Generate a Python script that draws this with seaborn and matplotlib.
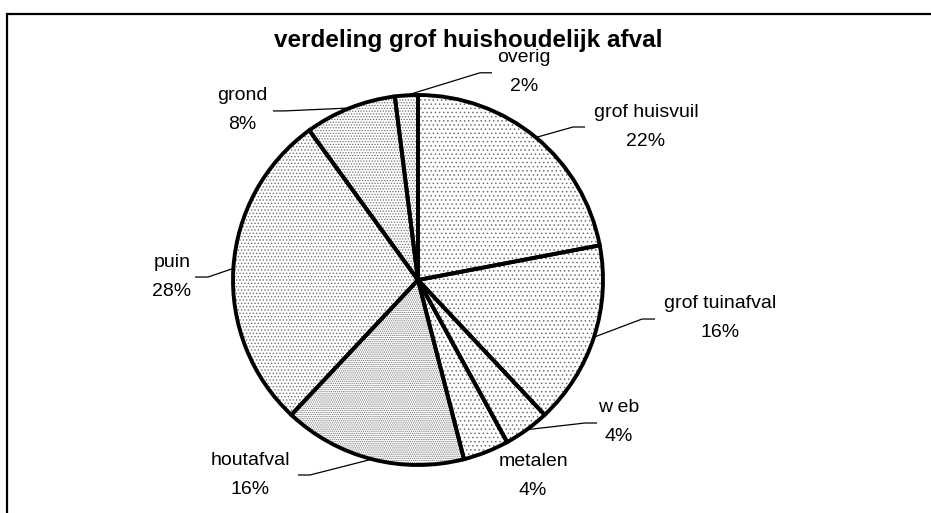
import matplotlib
matplotlib.use("Agg")
import matplotlib.pyplot as plt
from matplotlib.patches import Rectangle
import seaborn as sns
import numpy as np

# ---- data ----
categories = ["grof huisvuil", "grof tuinafval", "w eb", "metalen",
              "houtafval", "puin", "grond", "overig"]
values = [22, 16, 4, 4, 16, 28, 8, 2]
title = "verdeling grof huishoudelijk afval"

# ---- layout (radius units) ----
label_pos = [(1.232, 0.828), (1.632, -0.205), (1.086, -0.768), (0.622, -1.059),
             (-0.908, -1.054), (-1.33, 0.016), (-0.951, 0.919), (0.573, 1.124)]
leader_elbow = [(0.838, 0.827), (1.211, -0.211), (0.903, -0.773), None,
                (-0.584, -1.054), (-1.135, 0.016), (-0.719, 0.914), (0.335, 1.12)]
leader_end = [(0.903, 0.827), (1.281, -0.211), (0.968, -0.773), None,
              (-0.649, -1.054), (-1.205, 0.016), (-0.784, 0.914), (0.40, 1.12)]
hatches = ["....", "....", "....", "....", "........", ".....", "......", "......"]

sns.set_style("white")
plt.rcParams["font.family"] = ["Liberation Sans", "DejaVu Sans"]
plt.rcParams["hatch.linewidth"] = 0.6
plt.rcParams["text.color"] = "black"

W, H = 931, 513
fig = plt.figure(figsize=(W / 100, H / 100), dpi=100)
ax = fig.add_axes([0, 0, 1, 1])
cx, cy, R = 418, 280, 185

# fill layer (dotted)
wedges, _ = ax.pie(values, startangle=90, counterclock=False, radius=1,
                   wedgeprops=dict(facecolor="white", edgecolor="#707070", linewidth=0))
for w, h in zip(wedges, hatches):
    w.set_hatch(h)
# outline layer
ax.pie(values, startangle=90, counterclock=False, radius=1,
       wedgeprops=dict(fill=False, edgecolor="black", linewidth=2.8))

ax.set_aspect("auto")
ax.set_xlim(-cx / R, (W - cx) / R)
ax.set_ylim(-(H - cy) / R, cy / R)
ax.axis("off")

# labels and leader lines
total = sum(values)
start = 90.0
for i, (cat, v) in enumerate(zip(categories, values)):
    ang = start - 360.0 * v / total / 2
    start -= 360.0 * v / total
    tx, ty = label_pos[i]
    ax.text(tx, ty, f"{cat}\n{v}%", ha="center", va="center", fontsize=14,
            linespacing=1.9, color="black")
    if leader_elbow[i] is not None:
        a = np.deg2rad(ang)
        px, py = np.cos(a), np.sin(a)
        ex, ey = leader_elbow[i]
        lx, ly = leader_end[i]
        ax.plot([px, ex, lx], [py, ey, ly], color="black", lw=0.9,
                solid_capstyle="butt")

fig.text(468 / W, 1 - 41 / H, title, ha="center", va="center",
         fontsize=17.5, fontweight="bold", color="black")

fig.patches.append(Rectangle((6.5 / W, -0.1), 2, (H - 13.5) / H + 0.1,
                             transform=fig.transFigure, fill=False,
                             edgecolor="black", linewidth=1.6))

fig.savefig("out.png", dpi=100)
